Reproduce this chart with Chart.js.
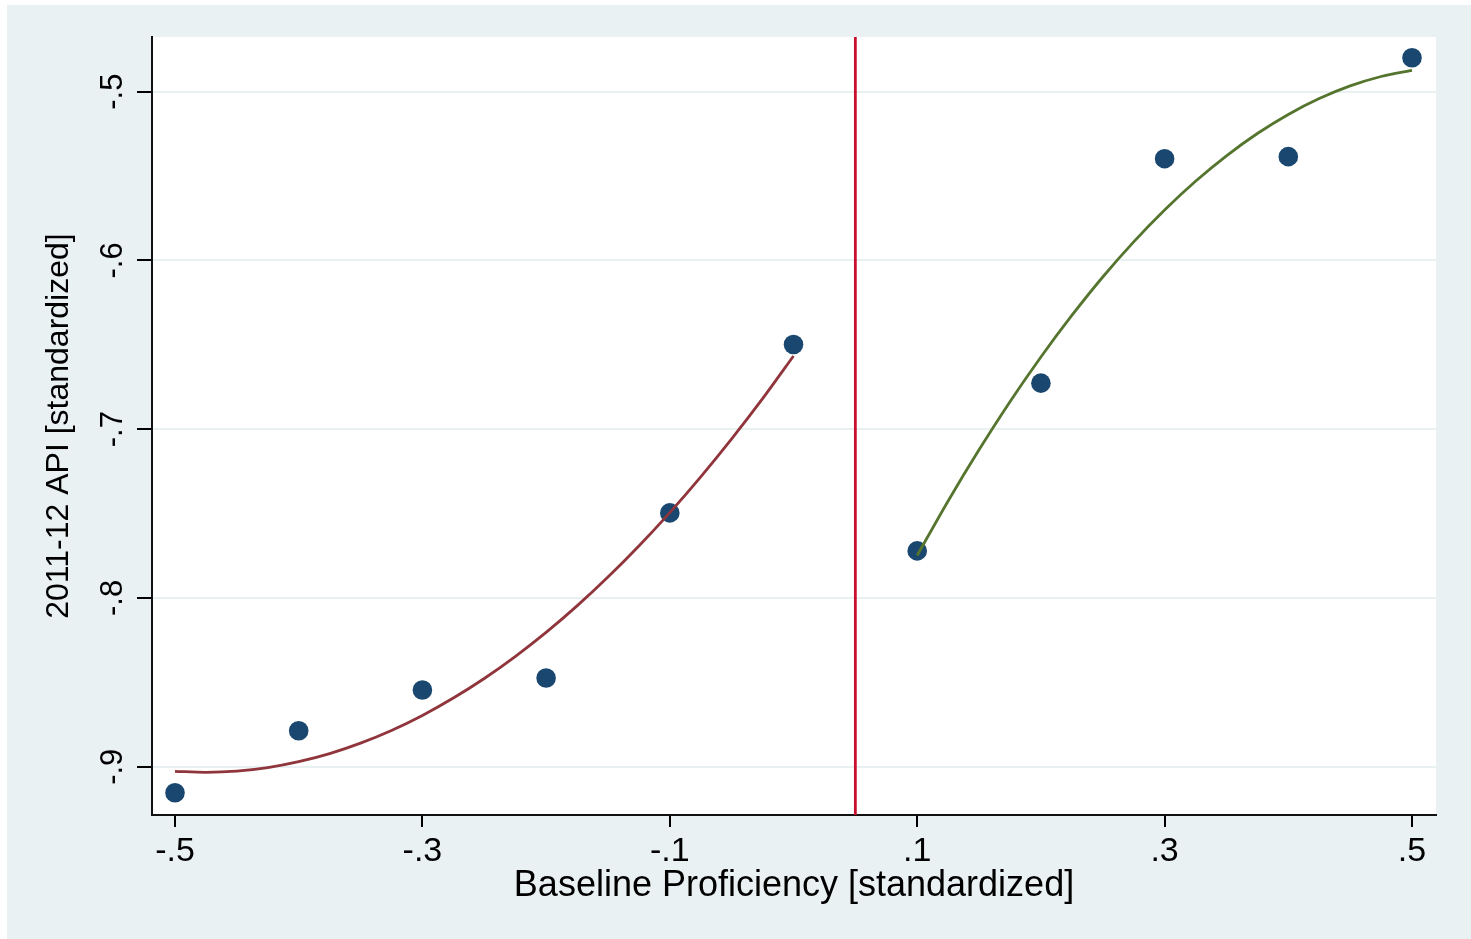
<!DOCTYPE html>
<html>
<head>
<meta charset="utf-8">
<script src="https://cdn.jsdelivr.net/npm/chart.js@4/dist/chart.umd.min.js"></script>
<style>
  html, body { margin: 0; padding: 0; background: #fff; }
  #frame {
    position: absolute; left: 7px; top: 5px;
    width: 1464px; height: 934px;
    background: #eaf1f3;
  }
</style>
</head>
<body>
<div id="frame"><canvas id="rdChart" width="1464" height="934"></canvas></div>
<script>
// ==========================
// DONNÉES
// ==========================
const binX = [-0.5, -0.4, -0.3, -0.2, -0.1, 0.0, 0.1, 0.2, 0.3, 0.4, 0.5];
const binY = [-0.9154, -0.8787, -0.8545, -0.8474, -0.7496, -0.6498, -0.7721, -0.6727, -0.5397, -0.5385, -0.4799];

// courbes ajustées
const leftFitX = [-0.5, -0.475, -0.45, -0.425, -0.4, -0.375, -0.35, -0.325, -0.3, -0.275, -0.25,
                  -0.225, -0.2, -0.175, -0.15, -0.125, -0.1, -0.075, -0.05, -0.025, 0.0];
const leftFitY = [-0.9027, -0.9033, -0.9026, -0.9005, -0.8970, -0.8922, -0.8860, -0.8785, -0.8696, -0.8593, -0.8477,
                  -0.8347, -0.8204, -0.8047, -0.7876, -0.7692, -0.7494, -0.7282, -0.7057, -0.6819, -0.6566];
const rightFitX = [0.1, 0.125, 0.15, 0.175, 0.2, 0.225, 0.25, 0.275, 0.3,
                   0.325, 0.35, 0.375, 0.4, 0.425, 0.45, 0.475, 0.5];
const rightFitY = [-0.7748, -0.7425, -0.7122, -0.6837, -0.6572, -0.6326, -0.6098, -0.5890, -0.5701,
                   -0.5531, -0.5380, -0.5248, -0.5135, -0.5041, -0.4966, -0.4910, -0.4874];

const cutoff = 0.05;

const xTicks = [-0.5, -0.3, -0.1, 0.1, 0.3, 0.5];
const xTickLabels = ["-.5", "-.3", "-.1", ".1", ".3", ".5"];
const yTicks = [-0.9, -0.8, -0.7, -0.6, -0.5];
const yTickLabels = ["-.9", "-.8", "-.7", "-.6", "-.5"];

const xTitle = "Baseline Proficiency [standardized]";
const yTitle = "2011-12 API [standardized]";

const X_MIN = -0.5186, X_MAX = 0.5194;
const Y_MIN = -0.9286, Y_MAX = -0.4676;

const FONT = "'Liberation Sans', Arial, Helvetica, sans-serif";
const toPoints = (xs, ys) => xs.map((x, i) => ({ x, y: ys[i] }));

/* =======================================================
   PLUGINS : fond blanc + étiquettes Y pivotées
======================================================= */
const plotBackground = {
  id: "plotBackground",
  beforeDraw(chart) {
    const { ctx, chartArea: a } = chart;
    ctx.save();
    ctx.fillStyle = "#ffffff";
    ctx.fillRect(a.left, a.top, a.right - a.left, a.bottom - a.top);
    ctx.restore();
  },
};

const rotatedYLabels = {
  id: "rotatedYLabels",
  afterDraw(chart) {
    const { ctx } = chart;
    const y = chart.scales.y;
    ctx.save();
    ctx.fillStyle = "#000";
    ctx.font = `31px ${FONT}`;
    ctx.textAlign = "center";
    ctx.textBaseline = "alphabetic";
    yTicks.forEach((v, i) => {
      ctx.save();
      ctx.translate(115, y.getPixelForValue(v));
      ctx.rotate(-Math.PI / 2);
      ctx.fillText(yTickLabels[i], 0, 0);
      ctx.restore();
    });
    ctx.restore();
  },
};

/* =======================================================
   GRAPHIQUE
======================================================= */
new Chart(document.getElementById("rdChart"), {
  type: "scatter",
  data: {
    datasets: [
      {
        type: "line",
        data: toPoints(leftFitX, leftFitY),
        borderColor: "#90353b",
        borderWidth: 2.8,
        pointRadius: 0,
        tension: 0.3,
        fill: false,
      },
      {
        type: "line",
        data: toPoints(rightFitX, rightFitY),
        borderColor: "#55752f",
        borderWidth: 2.8,
        pointRadius: 0,
        tension: 0.3,
        fill: false,
      },
      {
        type: "line",
        data: [{ x: cutoff, y: Y_MIN }, { x: cutoff, y: Y_MAX }],
        borderColor: "#c8102e",
        borderWidth: 2.8,
        pointRadius: 0,
        fill: false,
      },
      {
        data: toPoints(binX, binY),
        backgroundColor: "#1a476f",
        borderColor: "#1a476f",
        borderWidth: 0,
        pointRadius: 9.8,
        pointHoverRadius: 9.8,
      },
    ],
  },
  options: {
    responsive: false,
    animation: false,
    layout: { padding: { left: 0, top: 32, right: 35, bottom: 0 } },
    plugins: { legend: { display: false }, tooltip: { enabled: false } },
    scales: {
      x: {
        type: "linear",
        min: X_MIN,
        max: X_MAX,
        afterBuildTicks: (s) => { s.ticks = xTicks.map((v) => ({ value: v })); },
        afterFit: (s) => { s.height = 124; },
        ticks: {
          color: "#000",
          font: { family: FONT, size: 34 },
          padding: 4,
          maxRotation: 0,
          callback: (v, i) => xTickLabels[i],
        },
        grid: {
          drawOnChartArea: false,
          tickLength: 12,
          tickColor: "#000",
          lineWidth: 2,
        },
        border: { color: "#111", width: 2 },
        title: {
          display: true,
          text: xTitle,
          color: "#000",
          font: { family: FONT, size: 36 },
          padding: { top: 0, bottom: 31.4 },
        },
      },
      y: {
        type: "linear",
        min: Y_MIN,
        max: Y_MAX,
        afterBuildTicks: (s) => { s.ticks = yTicks.map((v) => ({ value: v })); },
        afterFit: (s) => { s.width = 145; },
        ticks: { display: false },
        grid: {
          color: "#e9f0f2",
          lineWidth: 2,
          tickLength: 15,
          tickColor: "#000",
        },
        border: { color: "#111", width: 2 },
        title: {
          display: true,
          text: yTitle,
          color: "#000",
          font: { family: FONT, size: 32 },
          padding: { top: 33, bottom: 0 },
        },
      },
    },
  },
  plugins: [plotBackground, rotatedYLabels],
});
</script>
</body>
</html>
